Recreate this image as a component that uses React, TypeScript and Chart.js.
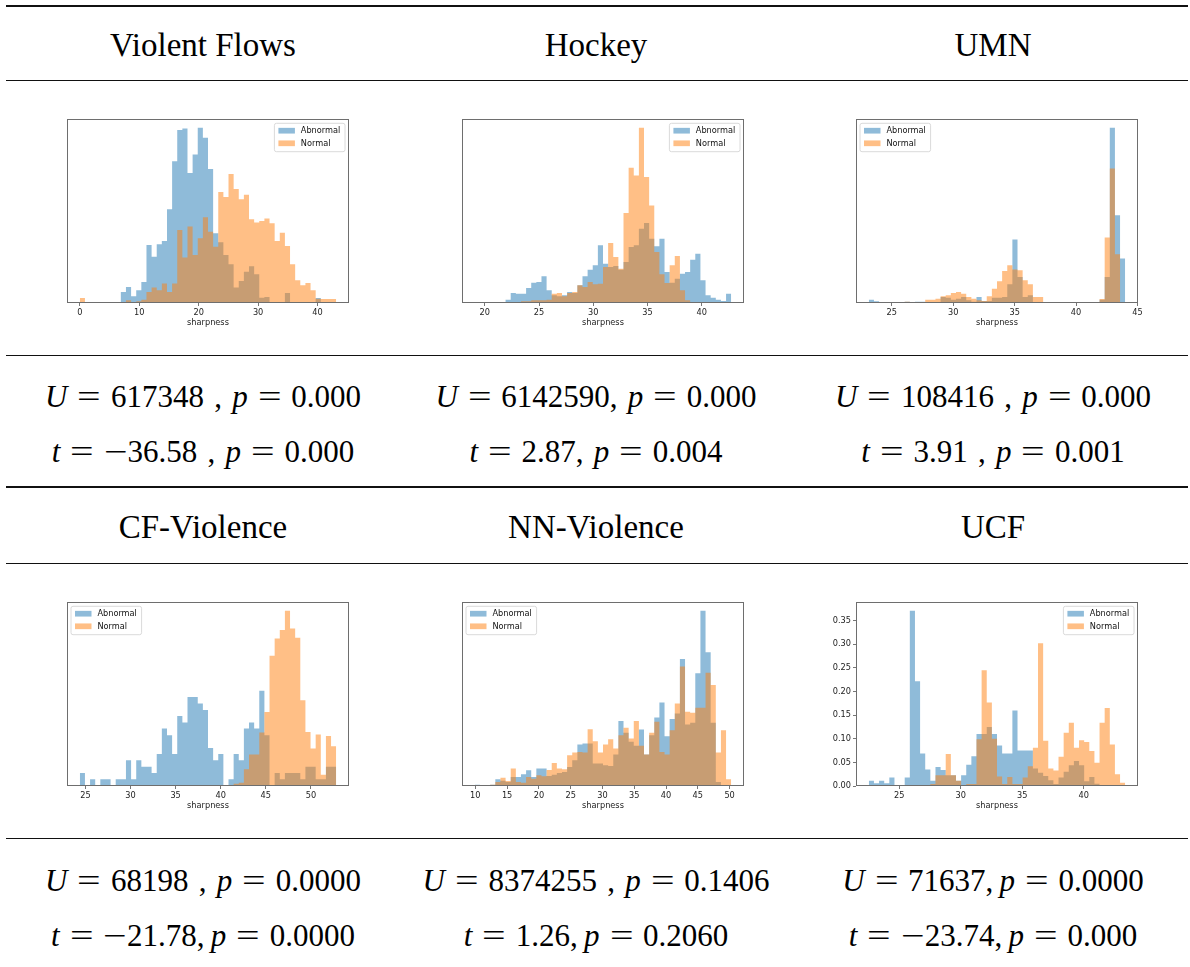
import React, { useEffect, useRef } from "react";
import { Chart, registerables } from "chart.js";

Chart.register(...registerables);

// ---------- text content ----------
const panelTitles = ["Violent Flows", "Hockey", "UMN", "CF-Violence", "NN-Violence", "UCF"];
const seriesLabels = ["Abnormal", "Normal"];
const xAxisTitle = "sharpness";

const vfStats = ["U = 617348 , p = 0.000", "t = −36.58 , p = 0.000"];
const hkStats = ["U = 6142590, p = 0.000", "t = 2.87, p = 0.004"];
const umStats = ["U = 108416 , p = 0.000", "t = 3.91 , p = 0.001"];
const cfStats = ["U = 68198 , p = 0.0000", "t = −21.78,\u2009p = 0.0000"];
const nnStats = ["U = 8374255 , p = 0.1406", "t = 1.26,\u2009p = 0.2060"];
const ucStats = ["U = 71637,\u2009p = 0.0000", "t = −23.74,\u2009p = 0.000"];

// ---------- histogram data (50 shared bins over each panel's range) ----------
const vfRange = [0, 43.14];
const vfAbnormal = [0,0,0,0,0,0,0,3,33,48,20,38,63,173,138,175,185,280,423,516,521,388,443,523,493,400,208,181,143,116,46,66,93,110,86,16,18,3,0,3,30,3,0,0,3,0,15,0,0,0];
const vfNormal = [15,0,0,0,0,0,0,0,0,8,3,5,10,33,46,38,58,33,58,218,136,228,143,193,256,213,168,331,316,385,340,310,323,250,240,245,252,238,185,210,170,116,68,53,60,38,13,12,12,12];
const vfTicks = [0, 10, 20, 30, 40];

const hkRange = [19.08, 42.72];
const hkAbnormal = [2,2,2,2,2,2,10,30,28,28,45,61,63,80,38,23,20,23,33,30,53,80,100,113,173,118,108,111,100,123,168,173,223,240,193,170,193,93,61,73,88,93,130,148,68,23,16,10,6,28];
const hkNormal = [0,0,0,0,0,0,3,3,3,5,5,8,8,8,10,28,30,20,30,33,53,48,63,56,58,108,180,138,103,270,406,383,526,378,293,153,86,60,113,141,38,8,3,0,0,0,0,0,0,0];
const hkTicks = [20, 25, 30, 35, 40];

const umRange = [23.13, 44.0];
const umAbnormal = [10,5,0,0,0,0,0,4,0,4,4,2,2,2,18,16,10,13,18,8,4,18,6,6,16,16,18,56,190,78,18,23,3,0,0,0,0,0,0,0,0,0,0,0,0,10,78,525,263,133];
const umNormal = [0,0,0,0,0,0,0,4,3,2,3,10,10,13,20,23,30,33,28,18,13,8,6,20,43,65,96,113,100,98,68,56,18,18,3,3,0,0,0,0,0,0,0,0,0,12,196,403,146,3];
const umTicks = [25, 30, 35, 40, 45];

const cfRange = [24.38, 52.8];
const cfAbnormal = [39,0,20,0,20,20,0,20,20,77,20,77,58,58,39,96,172,152,96,210,190,267,267,247,228,114,77,96,0,20,96,77,172,190,172,285,152,0,39,20,39,39,39,20,58,58,20,20,58,58];
const cfNormal = [0,0,0,0,0,0,0,0,0,0,0,0,0,0,0,0,0,0,0,0,0,0,0,0,0,0,0,0,0,0,7,10,50,94,94,160,222,390,442,467,525,472,444,257,162,112,154,34,150,119];
const cfTicks = [25, 30, 35, 40, 45, 50];

const nnRange = [9.92, 50.25];
const nnAbnormal = [4,0,0,4,20,16,12,27,27,35,47,27,52,52,30,34,39,42,57,77,124,127,127,67,67,62,60,94,194,159,132,120,169,94,152,205,250,149,200,217,380,184,189,337,524,400,189,12,0,0];
const nnNormal = [0,0,2,4,12,25,15,52,12,10,27,22,32,29,48,69,52,50,92,100,102,100,170,134,100,124,140,112,152,174,142,194,120,94,159,192,102,94,167,247,357,222,219,234,234,339,302,100,167,20];
const nnTicks = [10, 15, 20, 25, 30, 35, 40, 45, 50];

const ucRange = [22.53, 43.37];
const ucAbnormal = [0.011,0.006,0.011,0.006,0.018,0,0,0.018,0.371,0.222,0.069,0.035,0.011,0.040,0.034,0.023,0.023,0.011,0.023,0.045,0.063,0.110,0.110,0.125,0.110,0.086,0.069,0.069,0.160,0.075,0.075,0.075,0.037,0.028,0.021,0.012,0.004,0.018,0.030,0.044,0.053,0.044,0.010,0.019,0.005,0,0,0,0,0];
const ucNormal = [0,0,0,0,0,0,0,0,0,0,0,0,0.004,0.023,0.023,0.068,0.023,0.011,0,0.004,0.004,0.099,0.245,0.177,0.100,0.020,0.004,0.019,0.004,0.004,0.018,0.042,0.081,0.302,0.096,0.037,0.033,0.062,0.113,0.134,0.081,0.097,0.093,0.074,0.049,0.134,0.165,0.088,0.025,0.007];
const ucTicks = [25, 30, 35, 40];
const ucYTicks = [0, 0.05, 0.1, 0.15, 0.2, 0.25, 0.3, 0.35];

// ---------- styling ----------
const ABN_COLOR = "rgba(31,119,180,0.5)";
const NOR_COLOR = "rgba(255,127,14,0.5)";
const SMALL_FONT = { family: "'DejaVu Sans', sans-serif", size: 8.2 };
const TEXT_COLOR = "#222";
const BOX_W = 282;
const BOX_H = 184;
const PAD_L = 40;
const PAD_R = 8;
const PAD_T = 10;
const PAD_B = 25;

type Spec = {
  title: string;
  range: number[];
  abnormal: number[];
  normal: number[];
  xTicks: number[];
  yTicks: number[] | null;
  legend: "left" | "right";
  stats: string[];
};

const panels: Spec[] = [
  { title: panelTitles[0], range: vfRange, abnormal: vfAbnormal, normal: vfNormal, xTicks: vfTicks, yTicks: null, legend: "right", stats: vfStats },
  { title: panelTitles[1], range: hkRange, abnormal: hkAbnormal, normal: hkNormal, xTicks: hkTicks, yTicks: null, legend: "right", stats: hkStats },
  { title: panelTitles[2], range: umRange, abnormal: umAbnormal, normal: umNormal, xTicks: umTicks, yTicks: null, legend: "left", stats: umStats },
  { title: panelTitles[3], range: cfRange, abnormal: cfAbnormal, normal: cfNormal, xTicks: cfTicks, yTicks: null, legend: "left", stats: cfStats },
  { title: panelTitles[4], range: nnRange, abnormal: nnAbnormal, normal: nnNormal, xTicks: nnTicks, yTicks: null, legend: "left", stats: nnStats },
  { title: panelTitles[5], range: ucRange, abnormal: ucAbnormal, normal: ucNormal, xTicks: ucTicks, yTicks: ucYTicks, legend: "right", stats: ucStats },
];

// layout
const colCenters = [203, 596, 993];
const boxLefts = [67, 462, 856];
const boxTops = [119, 602];
const headerTops = [29.3, 511.3];
const statTops = [[380.5, 435.5], [864.5, 919.5]];
const rules = [
  { y: 5, h: 2 },
  { y: 80, h: 1 },
  { y: 355, h: 1 },
  { y: 486, h: 2 },
  { y: 563, h: 1 },
  { y: 838, h: 1 },
];

const framePlugin = {
  id: "frame",
  afterDatasetsDraw(chart: any) {
    const { ctx, chartArea: a } = chart;
    ctx.save();
    ctx.strokeStyle = "#6e6e6e";
    ctx.lineWidth = 1;
    ctx.strokeRect(Math.round(a.left) + 0.5, Math.round(a.top) + 0.5, Math.round(a.width) - 1, Math.round(a.height) - 1);
    ctx.restore();
  },
};

function makeLegendPlugin(side: "left" | "right") {
  return {
    id: "insideLegend",
    afterDraw(chart: any) {
      const { ctx, chartArea: a } = chart;
      const ds = chart.data.datasets;
      ctx.save();
      ctx.font = `${SMALL_FONT.size}px ${SMALL_FONT.family}`;
      const textW = Math.max(...ds.map((d: any) => ctx.measureText(d.label).width));
      const patchW = 16.5;
      const patchH = 5.7;
      const fw = 4 + patchW + 5.9 + textW + 4.7;
      const fh = 28.4;
      const x0 = side === "right" ? a.right - 4 - fw : a.left + 4;
      const y0 = a.top + 4.3;
      ctx.beginPath();
      if ((ctx as any).roundRect) (ctx as any).roundRect(x0, y0, fw, fh, 2);
      else ctx.rect(x0, y0, fw, fh);
      ctx.fillStyle = "rgba(255,255,255,0.8)";
      ctx.fill();
      ctx.strokeStyle = "#d0d0d0";
      ctx.lineWidth = 0.8;
      ctx.stroke();
      ds.forEach((d: any, i: number) => {
        const cy = y0 + 7.4 + i * 12.6;
        ctx.fillStyle = d.backgroundColor;
        ctx.fillRect(x0 + 4, cy - patchH / 2, patchW, patchH);
        ctx.fillStyle = "#111";
        ctx.textBaseline = "middle";
        ctx.textAlign = "left";
        ctx.fillText(d.label, x0 + 4 + patchW + 5.9, cy + 0.5);
      });
      ctx.restore();
    },
  };
}

function Histogram({ spec, boxLeft, boxTop }: { spec: Spec; boxLeft: number; boxTop: number }) {
  const ref = useRef<HTMLCanvasElement>(null);
  useEffect(() => {
    const canvas = ref.current;
    if (!canvas) return;
    const n = spec.abnormal.length;
    const lo = spec.range[0];
    const hi = spec.range[1];
    const bw = (hi - lo) / n;
    const edges = Array.from({ length: n + 1 }, (_, k) => lo + k * bw);
    const steps = (h: number[]) => [
      ...h.map((v, k) => ({ x: edges[k], y: v })),
      { x: edges[n], y: h[n - 1] },
    ];
    const margin = (hi - lo) * 0.05;
    const yMax = Math.max(...spec.abnormal, ...spec.normal) * 1.05;
    const hasY = !!spec.yTicks;
    const chart = new Chart(canvas, {
      type: "line",
      data: {
        datasets: [
          {
            label: seriesLabels[0],
            data: steps(spec.abnormal),
            backgroundColor: ABN_COLOR,
            borderColor: "rgba(0,0,0,0)",
            borderWidth: 0,
            fill: "origin",
            stepped: true,
            pointRadius: 0,
            order: 1,
          },
          {
            label: seriesLabels[1],
            data: steps(spec.normal),
            backgroundColor: NOR_COLOR,
            borderColor: "rgba(0,0,0,0)",
            borderWidth: 0,
            fill: "origin",
            stepped: true,
            pointRadius: 0,
            order: 0,
          },
        ],
      },
      options: {
        animation: false,
        responsive: false,
        events: [],
        layout: { padding: { left: 0, right: PAD_R, top: PAD_T, bottom: 0 }, autoPadding: false },
        scales: {
          x: {
            type: "linear",
            min: lo - margin,
            max: hi + margin,
            afterBuildTicks: (s: any) => {
              s.ticks = spec.xTicks.map((v) => ({ value: v }));
            },
            afterFit: (s: any) => {
              s.height = PAD_B;
            },
            ticks: {
              font: SMALL_FONT,
              color: TEXT_COLOR,
              padding: 2,
              maxRotation: 0,
              autoSkip: false,
              callback: (v: any) => String(v),
            },
            grid: { display: true, drawOnChartArea: false, drawTicks: true, tickLength: 3, color: "#777" },
            border: { display: false },
            title: { display: true, text: xAxisTitle, font: SMALL_FONT, color: TEXT_COLOR, padding: 0 },
          },
          y: {
            type: "linear",
            min: 0,
            max: yMax,
            afterBuildTicks: (s: any) => {
              if (spec.yTicks) s.ticks = spec.yTicks.map((v) => ({ value: v }));
            },
            afterFit: (s: any) => {
              s.width = PAD_L;
            },
            ticks: {
              display: hasY,
              font: SMALL_FONT,
              color: TEXT_COLOR,
              padding: 2,
              callback: (v: any) => Number(v).toFixed(2),
            },
            grid: { display: hasY, drawOnChartArea: false, drawTicks: true, tickLength: 3, color: "#777" },
            border: { display: false },
          },
        },
        plugins: { legend: { display: false }, tooltip: { enabled: false } },
      } as any,
      plugins: [framePlugin, makeLegendPlugin(spec.legend)],
    });
    return () => chart.destroy();
  }, [spec]);
  const w = PAD_L + BOX_W + PAD_R;
  const h = PAD_T + BOX_H + PAD_B;
  return (
    <canvas
      ref={ref}
      width={w}
      height={h}
      style={{ position: "absolute", left: boxLeft - PAD_L, top: boxTop - PAD_T, width: w, height: h }}
    />
  );
}

function MathLine({ text }: { text: string }) {
  const parts = text.split(/( = |[Utp]|−)/).filter((s) => s !== "");
  return (
    <>
      {parts.map((s, i) => {
        if (s === " = ")
          return (
            <span key={i} style={{ display: "inline-block", margin: "0 0.42em", transform: "scaleX(1.35)" }}>
              =
            </span>
          );
        if (s === "−")
          return (
            <span key={i} style={{ display: "inline-block", margin: "0 0.1em", transform: "scaleX(1.35)" }}>
              −
            </span>
          );
        if (/^[Utp]$/.test(s)) return <i key={i}>{s}</i>;
        return <span key={i}>{s.replace(/ /g, "\u00a0")}</span>;
      })}
    </>
  );
}

export default function App() {
  return (
    <div
      style={{
        position: "absolute",
        left: 0,
        top: 0,
        width: 1190,
        height: 967,
        background: "#fff",
        fontFamily: "'Liberation Serif', serif",
        color: "#000",
        overflow: "hidden",
      }}
    >
      {rules.map((r, i) => (
        <div key={i} style={{ position: "absolute", left: 6, width: 1182, top: r.y, height: r.h, background: "#111" }} />
      ))}
      {panels.map((p, i) => {
        const col = i % 3;
        const row = Math.floor(i / 3);
        return (
          <React.Fragment key={i}>
            <div
              style={{
                position: "absolute",
                left: colCenters[col] - 200,
                width: 400,
                top: headerTops[row],
                textAlign: "center",
                fontSize: 33,
                lineHeight: 1,
                whiteSpace: "nowrap",
              }}
            >
              {p.title}
            </div>
            <Histogram spec={p} boxLeft={boxLefts[col]} boxTop={boxTops[row]} />
            {p.stats.map((s, j) => (
              <div
                key={j}
                style={{
                  position: "absolute",
                  left: colCenters[col] - 200,
                  width: 400,
                  top: statTops[row][j],
                  textAlign: "center",
                  fontSize: 31,
                  lineHeight: 1,
                  wordSpacing: "0.08em",
                  whiteSpace: "nowrap",
                }}
              >
                <MathLine text={s} />
              </div>
            ))}
          </React.Fragment>
        );
      })}
    </div>
  );
}
